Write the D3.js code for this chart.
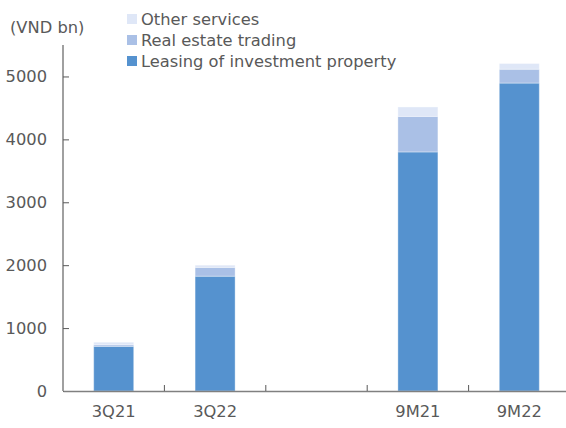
<!DOCTYPE html>
<html>
<head>
<meta charset="utf-8">
<script src="https://cdn.jsdelivr.net/npm/d3@7"></script>
<style>
  body { margin: 0; background: #fff; }
  text { font-family: "DejaVu Sans", sans-serif; fill: #595959; }
</style>
</head>
<body>
<svg id="chart" width="566" height="428"></svg>
<script>
'use strict';
// values (VND bn)
var categories = ['3Q21', '3Q22', '', '9M21', '9M22'];
var leasing = [710, 1825, null, 3800, 4895];
var realEstate = [25, 140, null, 565, 220];
var otherServices = [40, 35, null, 150, 90];
var yTicks = [0, 1000, 2000, 3000, 4000, 5000];

var seriesNames = ['Leasing of investment property', 'Real estate trading', 'Other services'];
var colors = ['#5592cf', '#aac0e6', '#dfe7f7'];
var fs = 16.3;

var svg = d3.select('#chart'),
    margin = {top: 45, right: -4, bottom: 37, left: 63},
    width = +svg.attr('width') - margin.left - margin.right,
    height = +svg.attr('height') - margin.top - margin.bottom,
    g = svg.append('g').attr('transform', 'translate(' + margin.left + ',' + margin.top + ')');

var x = d3.scaleBand().domain(d3.range(categories.length)).range([0, width]).paddingInner(0).paddingOuter(0);
var y = d3.scaleLinear().domain([0, 5500]).range([height, 0]);

var rows = categories.map(function (c, i) {
    return {i: i, lease: leasing[i] || 0, re: realEstate[i] || 0, other: otherServices[i] || 0};
});
var stack = d3.stack().keys(['lease', 're', 'other']);
var layers = stack(rows);

var barW = 40;
g.selectAll('.layer')
    .data(layers)
    .enter().append('g')
    .attr('class', 'layer')
    .attr('fill', function (d, k) { return colors[k]; })
    .selectAll('rect')
    .data(function (d) { return d.filter(function (p) { return p[1] > p[0]; }); })
    .enter().append('rect')
    .attr('x', function (d) { return x(d.data.i) + x.bandwidth() / 2 - barW / 2; })
    .attr('width', barW)
    .attr('y', function (d) { return y(d[1]); })
    .attr('height', function (d) { return y(d[0]) - y(d[1]); })
    .attr('stroke', 'rgba(255,255,255,0.35)')
    .attr('stroke-width', 1);

// y axis
var yAxis = d3.axisLeft(y).tickValues(yTicks).tickSize(-6).tickPadding(16).tickFormat(d3.format('d'));
var gy = g.append('g').attr('class', 'axis').call(yAxis);
gy.select('.domain').attr('stroke', '#808080').attr('stroke-width', 1.5).attr('d', 'M0,' + height + 'V0');
gy.selectAll('.tick line').attr('stroke', '#595959');
gy.selectAll('.tick text').attr('font-size', fs).attr('fill', '#595959');

// x axis
var xAxis = d3.axisBottom(x).tickFormat(function (i) { return categories[i]; }).tickSize(0).tickPadding(14);
var gx = g.append('g').attr('transform', 'translate(0,' + height + ')').call(xAxis);
gx.select('.domain').attr('stroke', '#808080').attr('stroke-width', 1.5);
gx.selectAll('.tick text').attr('font-size', fs).attr('fill', '#595959');
// tick marks between categories
gx.selectAll('.sep')
    .data(d3.range(1, categories.length))
    .enter().append('line')
    .attr('x1', function (i) { return x(i); })
    .attr('x2', function (i) { return x(i); })
    .attr('y1', 0).attr('y2', -6)
    .attr('stroke', '#595959');

// unit label
svg.append('text').attr('x', 10).attr('y', 33).attr('font-size', fs).text('(VND bn)');

// legend
var legendOrder = [2, 1, 0];
var legend = svg.append('g').selectAll('g')
    .data(legendOrder)
    .enter().append('g')
    .attr('transform', function (k, j) { return 'translate(127,' + (13 + j * 21) + ')'; });
legend.append('rect').attr('width', 10).attr('height', 10).attr('y', 1).attr('fill', function (k) { return colors[k]; });
legend.append('text').attr('x', 14).attr('y', 12).attr('font-size', fs).text(function (k) { return seriesNames[k]; });
</script>
</body>
</html>
